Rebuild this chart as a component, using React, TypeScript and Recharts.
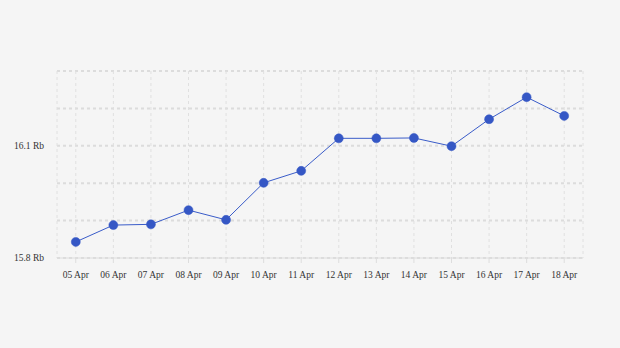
import React from 'react';
import { LineChart, Line, XAxis, YAxis, CartesianGrid } from 'recharts';

const days = [
  '05 Apr', '06 Apr', '07 Apr', '08 Apr', '09 Apr', '10 Apr', '11 Apr',
  '12 Apr', '13 Apr', '14 Apr', '15 Apr', '16 Apr', '17 Apr', '18 Apr',
];
const prices = [
  15.843, 15.888, 15.89, 15.928, 15.902, 16.001, 16.033,
  16.12, 16.12, 16.121, 16.099, 16.171, 16.23, 16.18,
];
const yTicks = [15.8, 15.9, 16.0, 16.1, 16.2, 16.3];
const yTickLabels = ['15.8 Rb', '', '', '16.1 Rb', '', ''];

const data = days.map((day, i) => ({ day, price: prices[i] }));

const font = { fontFamily: '"Liberation Serif", serif', fontSize: 9.5, fill: '#333' };

const App: React.FC = () => {
  return (
    <div style={{ width: 620, height: 348, background: '#f5f5f5' }}>
      <style>{'body{margin:0;background:#f5f5f5}'}</style>
      <LineChart width={620} height={348} data={data} margin={{ top: 71, right: 37, bottom: 60, left: 0 }}>
        <CartesianGrid horizontal vertical={false} stroke="#dcdcdc" strokeWidth={2} strokeDasharray="3 3" />
        <CartesianGrid horizontal={false} vertical stroke="#e0e0e0" strokeWidth={1} strokeDasharray="3 3" />
        <XAxis
          dataKey="day"
          scale="band"
          interval={0}
          tick={font}
          stroke="#ddd"
          tickSize={5}
          tickMargin={8}
          height={30}
        />
        <YAxis
          domain={[15.8, 16.3]}
          ticks={yTicks}
          tickFormatter={(v: number) => yTickLabels[yTicks.findIndex((t) => Math.abs(t - v) < 1e-6)] ?? ''}
          tick={font}
          axisLine={false}
          tickLine={false}
          tickSize={0}
          tickMargin={13}
          width={57}
        />
        <Line
          type="linear"
          dataKey="price"
          stroke="#3a5cc9"
          strokeWidth={1}
          dot={{ r: 4.5, fill: '#3557c5', stroke: '#3557c5', strokeWidth: 0.5 }}
          activeDot={false}
          isAnimationActive={false}
        />
      </LineChart>
    </div>
  );
};

export default App;
